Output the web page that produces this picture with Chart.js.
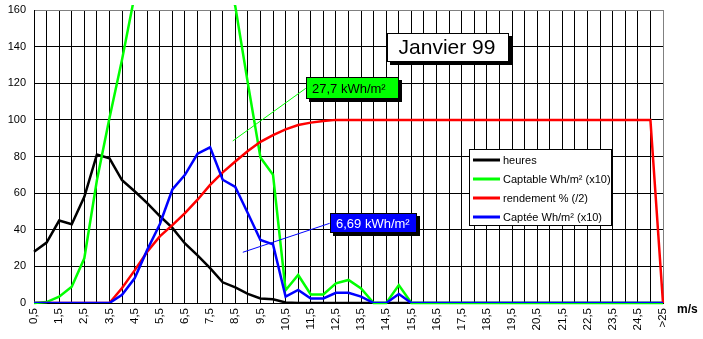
<!DOCTYPE html>
<html>
<head>
<meta charset="utf-8">
<script src="https://cdn.jsdelivr.net/npm/chart.js@4/dist/chart.umd.min.js"></script>
<style>
  html, body { margin: 0; padding: 0; background: #ffffff; }
  canvas { display: block; }
</style>
</head>
<body>
<canvas id="chart" width="703" height="339"></canvas>
<script>
// Wind speed classes (m/s)
const categories = [
  '0,5','1','1,5','2','2,5','3','3,5','4','4,5','5',
  '5,5','6','6,5','7','7,5','8','8,5','9','9,5','10',
  '10,5','11','11,5','12','12,5','13','13,5','14','14,5','15',
  '15,5','16','16,5','17','17,5','18','18,5','19','19,5','20',
  '20,5','21','21,5','22','22,5','23','23,5','24','24,5','25',
  '>25'
];

// Hours per wind class
const heures = [
  28, 33, 45, 43, 58, 81, 79, 67, 61, 54.5,
  47.5, 41, 32.5, 26, 19, 11.3, 8.5, 5, 2.5, 2,
  0.3, 0, 0, 0, 0, 0, 0, 0, 0, 0,
  0, 0, 0, 0, 0, 0, 0, 0, 0, 0,
  0, 0, 0, 0, 0, 0, 0, 0, 0, 0,
  0
];

// Available energy, Wh/m² (x10)
const captable = [
  0, 0.5, 3.4, 8.9, 24.4, 67, 101, 133, 168, 206,
  235, 285, 285, 290, 264, 189, 162, 120, 79.5, 70,
  7, 15.3, 4.7, 4.7, 10.7, 12.6, 8, 0, 0, 9.8,
  0, 0, 0, 0, 0, 0, 0, 0, 0, 0,
  0, 0, 0, 0, 0, 0, 0, 0, 0, 0,
  0
];

// Efficiency % (/2)
const rendement = [
  0, 0, 0, 0, 0, 0, 0, 8.2, 17.8, 28,
  36.4, 42.5, 49.1, 56.4, 64.5, 71.3, 77.3, 83, 88, 91.7,
  94.8, 97.2, 98.5, 99.4, 100, 100, 100, 100, 100, 100,
  100, 100, 100, 100, 100, 100, 100, 100, 100, 100,
  100, 100, 100, 100, 100, 100, 100, 100, 100, 100,
  0
];

// Captured energy, Wh/m² (x10)
const captee = [
  0, 0, 0, 0, 0, 0, 0, 4.5, 13.5, 29,
  43, 62, 70, 81.5, 85, 67.3, 63.4, 49, 34.4, 32,
  3.5, 7.1, 2.5, 2.5, 5.6, 5.6, 3.5, 0, 0, 4.9,
  0, 0, 0, 0, 0, 0, 0, 0, 0, 0,
  0, 0, 0, 0, 0, 0, 0, 0, 0, 0,
  0
];

const yTicks = [0, 20, 40, 60, 80, 100, 120, 140, 160];

const seriesNames = ['heures', 'Captable Wh/m² (x10)', 'rendement % (/2)', 'Captée Wh/m² (x10)'];
const seriesColors = ['#000000', '#00ff00', '#ff0000', '#0000ff'];

const titleText = 'Janvier 99';
const unitText = 'm/s';
// Monthly totals, with the point of the curve each callout points at
const totalCaptable = { text: '27,7 kWh/m²', from: [15.8, 88.5], to: [21.6, 117.2] };
const totalCaptee = { text: '6,69 kWh/m²', from: [16.6, 27.7], to: [23.5, 43.5] };

const FONT = '"Liberation Sans", Arial, Helvetica, sans-serif';

function shadowBox(ctx, x, y, w, h, fill) {
  ctx.fillStyle = '#000000';
  ctx.fillRect(x + 3, y + 3, w, h);
  ctx.fillStyle = fill;
  ctx.fillRect(x, y, w, h);
  ctx.strokeStyle = '#000000';
  ctx.lineWidth = 1;
  ctx.strokeRect(x + 0.5, y + 0.5, w - 1, h - 1);
}

function callout(ctx, xs, ys, c, lineColor, fill, textColor, w, h) {
  const x1 = xs.getPixelForValue(c.from[0]), y1 = ys.getPixelForValue(c.from[1]);
  const x2 = xs.getPixelForValue(c.to[0]), y2 = ys.getPixelForValue(c.to[1]);
  ctx.strokeStyle = lineColor;
  ctx.lineWidth = 1;
  ctx.beginPath();
  ctx.moveTo(x1, y1);
  ctx.lineTo(x2, y2);
  ctx.stroke();
  const bx = Math.round(x2), by = Math.round(y2 - h / 2);
  shadowBox(ctx, bx, by, w, h, fill);
  ctx.fillStyle = textColor;
  ctx.font = '13px ' + FONT;
  ctx.textAlign = 'left';
  ctx.textBaseline = 'middle';
  ctx.fillText(c.text, bx + 6, by + h / 2 + 1);
}

const decorations = {
  id: 'decorations',
  afterDatasetsDraw(chart) {
    const { ctx, chartArea: a, scales: { x, y } } = chart;
    ctx.save();

    // Title box
    shadowBox(ctx, 387, 33, 122, 29, '#ffffff');
    ctx.fillStyle = '#000000';
    ctx.font = '21px ' + FONT;
    ctx.textAlign = 'center';
    ctx.textBaseline = 'middle';
    ctx.fillText(titleText, 447, 48);

    // Totals
    callout(ctx, x, y, totalCaptable, '#00ff00', '#00ff00', '#000000', 93, 22);
    callout(ctx, x, y, totalCaptee, '#0000ff', '#0000ff', '#ffffff', 87, 20);

    // Legend
    const lx = 469, ly = 149, lw = 143, lh = 77;
    ctx.fillStyle = '#ffffff';
    ctx.fillRect(lx, ly, lw, lh);
    ctx.strokeStyle = '#000000';
    ctx.lineWidth = 1;
    ctx.strokeRect(lx + 0.5, ly + 0.5, lw - 1, lh - 1);
    ctx.font = '11px ' + FONT;
    ctx.textAlign = 'left';
    ctx.textBaseline = 'middle';
    seriesNames.forEach((name, i) => {
      const ry = ly + 11 + i * 19;
      ctx.strokeStyle = seriesColors[i];
      ctx.lineWidth = 3;
      ctx.beginPath();
      ctx.moveTo(lx + 4, ry);
      ctx.lineTo(lx + 31, ry);
      ctx.stroke();
      ctx.fillStyle = '#000000';
      ctx.fillText(name, lx + 34, ry + 1);
    });

    // Unit of the category axis
    ctx.font = 'bold 12px ' + FONT;
    ctx.textAlign = 'left';
    ctx.textBaseline = 'alphabetic';
    ctx.fillStyle = '#000000';
    ctx.fillText(unitText, a.right + 14, a.bottom + 10);

    ctx.restore();
  }
};

new Chart(document.getElementById('chart'), {
  type: 'line',
  data: {
    labels: categories,
    datasets: [
      { label: seriesNames[0], data: heures, borderColor: seriesColors[0], order: 4 },
      { label: seriesNames[1], data: captable, borderColor: seriesColors[1], order: 3,
        clip: { left: 2, top: 5, right: 2, bottom: 2 } },
      { label: seriesNames[2], data: rendement, borderColor: seriesColors[2], order: 2 },
      { label: seriesNames[3], data: captee, borderColor: seriesColors[3], order: 1 }
    ]
  },
  options: {
    responsive: false,
    animation: false,
    devicePixelRatio: 1,
    layout: { padding: { top: 10, right: 40, left: 0, bottom: 0 } },
    elements: {
      line: { borderWidth: 2.5, tension: 0, fill: false, borderCapStyle: 'butt', borderJoinStyle: 'miter' },
      point: { radius: 0, hoverRadius: 0 }
    },
    plugins: {
      legend: { display: false },
      tooltip: { enabled: false },
      title: { display: false }
    },
    events: [],
    scales: {
      x: {
        type: 'category',
        offset: false,
        grid: {
          color: c => (c.index === categories.length - 1 ? '#808080' : '#000000'),
          lineWidth: 1,
          drawTicks: false
        },
        border: { color: '#000000', width: 1 },
        ticks: {
          autoSkip: false,
          maxRotation: 90,
          minRotation: 90,
          padding: 5,
          color: '#000000',
          font: { family: FONT, size: 11.5 },
          callback: (v, i) => (i % 2 === 0 ? categories[i] : '')
        },
        afterFit: s => {
          s.height = 36;
          s.paddingLeft = 0;
          s.paddingRight = 0;
        }
      },
      y: {
        min: 0,
        max: 160,
        afterBuildTicks: s => { s.ticks = yTicks.map(v => ({ value: v })); },
        grid: {
          color: c => (c.tick && c.tick.value === 160 ? '#808080' : '#000000'),
          lineWidth: 1,
          drawTicks: false
        },
        border: { color: '#000000', width: 1 },
        ticks: {
          padding: 8,
          color: '#000000',
          font: { family: FONT, size: 11 }
        },
        afterFit: s => {
          s.width = 34;
          s.paddingTop = 0;
          s.paddingBottom = 0;
        }
      }
    }
  },
  plugins: [decorations]
});
</script>
</body>
</html>
